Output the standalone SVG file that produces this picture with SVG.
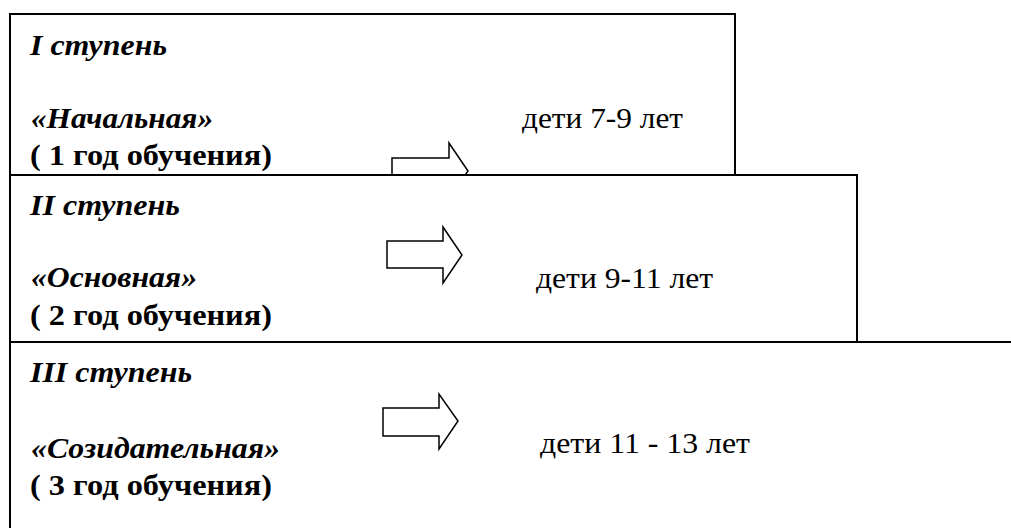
<svg xmlns="http://www.w3.org/2000/svg" width="1011" height="528" viewBox="0 0 1011 528">
<style>
.box{fill:#fff;stroke:#000;stroke-width:2}
.arr{fill:#fff;stroke:#000;stroke-width:1.5;stroke-linejoin:miter}
text{font-family:"Liberation Serif","Times New Roman",serif;font-size:30px;fill:#000}
.bi{font-weight:bold;font-style:italic}
.b{font-weight:bold}
</style>
<rect width="1011" height="528" fill="#fff"/>
<g id="stage1">
<rect class="box" x="10" y="14" width="725" height="180"/>
<text class="bi" x="30" y="55" textLength="137" lengthAdjust="spacingAndGlyphs">I ступень</text>
<text class="bi" x="31" y="128" textLength="182" lengthAdjust="spacingAndGlyphs">«Начальная»</text>
<text class="b" x="30" y="165" textLength="242" lengthAdjust="spacingAndGlyphs">( 1 год обучения)</text>
<text x="522" y="128" textLength="161" lengthAdjust="spacingAndGlyphs">дети 7-9 лет</text>
</g>
<g id="connectors">
<path class="arr" d="M392,158 H449 V143 L468,171 L449,199 V185 H392 Z"/>
</g>
<g id="stage2">
<rect class="box" x="10" y="175" width="847" height="200"/>
<text class="bi" x="30" y="215" textLength="150" lengthAdjust="spacingAndGlyphs">II ступень</text>
<text class="bi" x="31" y="287" textLength="166" lengthAdjust="spacingAndGlyphs">«Основная»</text>
<text class="b" x="30" y="325" textLength="242" lengthAdjust="spacingAndGlyphs">( 2 год обучения)</text>
<text x="536" y="288" textLength="177" lengthAdjust="spacingAndGlyphs">дети 9-11 лет</text>
</g>
<g id="arrow2">
<path class="arr" d="M387,241 H443 V227 L462,255 L443,283 V268 H387 Z"/>
</g>
<g id="stage3">
<rect class="box" x="10" y="342" width="1020" height="200"/>
<text class="bi" x="30" y="382" textLength="162" lengthAdjust="spacingAndGlyphs">III ступень</text>
<text class="bi" x="31" y="458" textLength="249" lengthAdjust="spacingAndGlyphs">«Созидательная»</text>
<text class="b" x="30" y="495" textLength="242" lengthAdjust="spacingAndGlyphs">( 3 год обучения)</text>
<text x="540" y="453" textLength="210" lengthAdjust="spacingAndGlyphs">дети 11 - 13 лет</text>
</g>
<g id="arrow3">
<path class="arr" d="M383,408 H439 V394 L458,421 L439,449 V436 H383 Z"/>
</g>
</svg>
